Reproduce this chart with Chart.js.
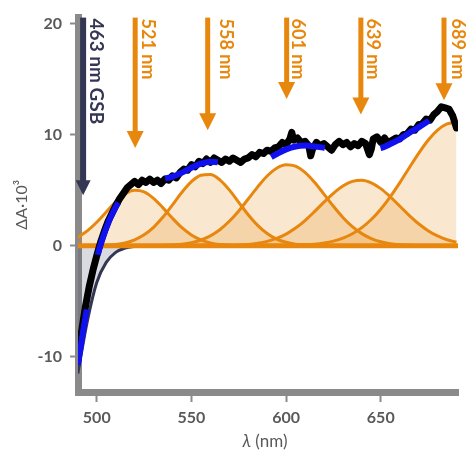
<!DOCTYPE html>
<html>
<head>
<meta charset="utf-8">
<script src="https://cdn.jsdelivr.net/npm/chart.js@4.4.1/dist/chart.umd.min.js"></script>
<style>
  html, body { margin: 0; padding: 0; background: #fff; }
</style>
</head>
<body>
<canvas id="chart" width="468" height="451"></canvas>
<script>
// wavelength grid of the fitted curves (nm)
const wavelengths = [490, 495, 500, 505, 510, 515, 520, 525, 530, 535, 540, 545, 550, 555, 560, 565, 570, 575, 580, 585,
  590, 595, 600, 605, 610, 615, 620, 625, 630, 635, 640, 645, 650, 655, 660, 665, 670, 675, 680, 685, 690]

// ground state bleach component (negative)
const gsb = [-11.5, -6.8, -3.3, -1.5, -0.6, -0.2, -0.05, 0, 0, 0, 0, 0, 0, 0, 0, 0, 0, 0, 0, 0,
  0, 0, 0, 0, 0, 0, 0, 0, 0, 0, 0, 0, 0, 0, 0, 0, 0, 0, 0, 0, 0]

// absorption bands
const band521 = [0.77, 1.34, 2.11, 3.03, 3.95, 4.66, 4.99, 4.85, 4.27, 3.41, 2.47, 1.62, 0.97, 0.52, 0.26, 0.11, 0.05, 0.02, 0, 0,
  0, 0, 0, 0, 0, 0, 0, 0, 0, 0, 0, 0, 0, 0, 0, 0, 0, 0, 0, 0, 0]
const band558 = [0, 0.01, 0.02, 0.05, 0.12, 0.26, 0.53, 0.98, 1.66, 2.58, 3.68, 4.82, 5.77, 6.35, 6.41, 5.93, 5.03, 3.91, 2.79, 1.83,
  1.10, 0.60, 0.31, 0.14, 0.06, 0.02, 0, 0, 0, 0, 0, 0, 0, 0, 0, 0, 0, 0, 0, 0, 0]
const band601 = [0, 0, 0, 0, 0, 0, 0, 0, 0.01, 0.03, 0.07, 0.14, 0.28, 0.52, 0.89, 1.44, 2.20, 3.13, 4.21, 5.30,
  6.28, 6.98, 7.29, 7.16, 6.60, 5.71, 4.65, 3.55, 2.55, 1.72, 1.09, 0.65, 0.36, 0.19, 0.09, 0.04, 0.02, 0, 0, 0, 0]
const band639 = [0, 0, 0, 0, 0, 0, 0, 0, 0, 0, 0, 0, 0, 0, 0, 0.01, 0.03, 0.06, 0.11, 0.22,
  0.39, 0.66, 1.05, 1.59, 2.27, 3.07, 3.92, 4.72, 5.38, 5.79, 5.89, 5.66, 5.14, 4.41, 3.58, 2.74, 1.98, 1.36, 0.88, 0.54, 0.31]
const band689 = [0, 0, 0, 0, 0, 0, 0, 0, 0, 0, 0, 0, 0, 0, 0, 0, 0, 0, 0, 0,
  0, 0.01, 0.02, 0.04, 0.08, 0.14, 0.25, 0.42, 0.68, 1.08, 1.63, 2.36, 3.29, 4.40, 5.66, 7.00, 8.31, 9.49, 10.40, 10.96, 11.09]

// total fit
const fit = [-10.73, -5.45, -1.17, 1.58, 3.47, 4.72, 5.47, 5.83, 5.94, 6.02, 6.22, 6.58, 7.02, 7.39, 7.56, 7.49, 7.31, 7.12, 7.11, 7.35,
  7.77, 8.25, 8.67, 8.93, 9.01, 8.94, 8.82, 8.69, 8.61, 8.59, 8.61, 8.67, 8.79, 9.15, 9.6, 10.15, 10.65, 11.2, 11.75, 11.95, 11.8]

// measured spectrum
const measuredNm = [490, 492, 494, 496, 498, 500, 502, 504, 506, 508, 510, 512, 514, 516, 518, 520, 522, 524, 526, 528,
  530, 532, 534, 536, 538, 540, 542, 544, 546, 548, 550, 552, 554, 556, 558, 560, 562, 564, 566, 568,
  570, 572, 574, 576, 578, 580, 582, 584, 586, 588, 590, 592, 594, 596, 598, 600, 602, 603, 604, 606,
  608, 610, 612, 613, 614, 616, 618, 620, 622, 624, 626, 628, 630, 632, 634, 636, 638, 640, 642, 644,
  645, 646, 648, 650, 652, 654, 656, 658, 660, 662, 664, 666, 668, 670, 672, 674, 676, 678, 680, 682,
  684, 686, 688, 690]
const measuredDA = [-10.3, -7.7, -5.5, -3.7, -2.2, -0.9, 0.3, 1.3, 2.2, 2.9, 3.6, 4.2, 4.7, 5.2, 5.5, 5.8, 5.5, 5.9, 5.7, 6.0,
  5.7, 5.9, 5.6, 6.0, 5.9, 6.3, 6.1, 6.6, 6.9, 6.8, 7.3, 7.1, 7.6, 7.4, 7.8, 7.5, 7.9, 7.7, 7.5, 7.8,
  7.6, 7.9, 7.7, 7.5, 7.8, 7.9, 8.2, 8.0, 8.4, 8.3, 8.6, 8.5, 8.8, 8.9, 9.3, 9.1, 9.6, 10.2, 9.5, 9.7,
  9.3, 9.4, 9.0, 8.1, 8.7, 9.3, 9.0, 9.2, 8.9, 8.6, 9.1, 9.4, 9.1, 9.3, 8.9, 9.2, 9.0, 9.4, 9.2, 8.2,
  8.7, 9.6, 9.8, 9.3, 9.7, 9.2, 9.5, 9.7, 9.6, 10.0, 10.1, 10.5, 10.4, 10.9, 11.0, 11.4, 11.3, 11.8, 12.1, 12.5,
  12.4, 12.3, 11.7, 10.6]

// arrows marking band positions
const arrowNm = [520.3, 558.6, 600.3, 639.5, 683.4]
const arrowTip = [8.8, 10.4, 13.2, 11.8, 13.1]
const arrowLabels = ['521 nm', '558 nm', '601 nm', '639 nm', '689 nm']
const gsbArrowNm = 492.8
const gsbArrowTip = 4.55
const gsbLabel = '463 nm GSB'

const xTicks = [500, 550, 600, 650]
const yTicks = [-10, 0, 10, 20]

const orange = '#e8870e'
const orangeFill = 'rgba(232, 135, 14, 0.2)'
const navy = '#343754'
const axisGray = '#8a8a8a'
const labelGray = '#595959'

const toPoints = (xs, ys) => xs.map((x, i) => ({ x, y: ys[i] }))

const bandDataset = (values, order) => ({
  data: toPoints(wavelengths, values),
  borderColor: orange,
  borderWidth: 3,
  backgroundColor: orangeFill,
  fill: 'origin',
  cubicInterpolationMode: 'monotone',
  order,
})

const annotations = {
  id: 'annotations',
  afterDraw(chart) {
    const { ctx, chartArea, scales: { x, y } } = chart
    const top = chartArea.top
    const arrow = (px, tipPx, shaft, headW, headH, color) => {
      ctx.fillStyle = color
      ctx.fillRect(px - shaft / 2, top, shaft, tipPx - headH - top + 1)
      ctx.beginPath()
      ctx.moveTo(px - headW / 2, tipPx - headH)
      ctx.lineTo(px + headW / 2, tipPx - headH)
      ctx.lineTo(px, tipPx)
      ctx.closePath()
      ctx.fill()
    }
    const vlabel = (text, px, font, color) => {
      ctx.save()
      ctx.translate(px, top + 1)
      ctx.rotate(Math.PI / 2)
      ctx.font = font
      ctx.fillStyle = color
      ctx.textAlign = 'left'
      ctx.textBaseline = 'alphabetic'
      ctx.fillText(text, 0, 0)
      ctx.restore()
    }
    const labelOffsets = [7, 12, 5, 6, 8]
    arrowNm.forEach((nm, i) => {
      const px = x.getPixelForValue(nm)
      arrow(px, y.getPixelForValue(arrowTip[i]), 5, 17, 17, orange)
      vlabel(arrowLabels[i], px + labelOffsets[i], 'bold 18px Lato', orange)
    })
    const gx = x.getPixelForValue(gsbArrowNm)
    arrow(gx, y.getPixelForValue(gsbArrowTip), 6, 15, 15, navy)
    vlabel(gsbLabel, gx + 7, 'bold 19px Lato', navy)

    // x axis title with italic lambda
    ctx.save()
    ctx.fillStyle = labelGray
    ctx.textBaseline = 'middle'
    const italic = 'italic 17px Lato'
    const normal = '17px Lato'
    ctx.font = italic
    const w1 = ctx.measureText('λ').width
    ctx.font = normal
    const w2 = ctx.measureText(' (nm)').width
    const cx = (chartArea.left + chartArea.right) / 2 - 3
    const start = cx - (w1 + w2) / 2
    ctx.font = italic
    ctx.fillText('λ', start, 442)
    ctx.font = normal
    ctx.fillText(' (nm)', start + w1, 442)
    ctx.restore()
  },
}

new Chart(document.getElementById('chart'), {
  type: 'line',
  data: {
    datasets: [
      {
        data: toPoints(wavelengths, fit),
        borderColor: '#1010f0',
        borderWidth: 6,
        borderDash: [56, 56],
        borderCapStyle: 'butt',
        fill: false,
        cubicInterpolationMode: 'monotone',
        order: 0,
      },
      {
        data: toPoints(measuredNm, measuredDA),
        borderColor: '#000000',
        borderWidth: 7,
        borderJoinStyle: 'round',
        borderCapStyle: 'round',
        fill: false,
        tension: 0,
        order: 1,
      },
      {
        data: toPoints([490.1, 690.8], [0, 0]),
        borderColor: orange,
        borderWidth: 5,
        fill: false,
        order: 2,
      },
      {
        data: toPoints(wavelengths, gsb),
        borderColor: navy,
        borderWidth: 3,
        backgroundColor: 'rgba(52, 55, 90, 0.18)',
        fill: 'origin',
        cubicInterpolationMode: 'monotone',
        order: 3,
      },
      bandDataset(band521, 4),
      bandDataset(band558, 5),
      bandDataset(band601, 6),
      bandDataset(band639, 7),
      bandDataset(band689, 8),
    ],
  },
  options: {
    responsive: false,
    animation: false,
    events: [],
    layout: { padding: { top: 13, right: 10, left: 0, bottom: 0 } },
    elements: { point: { radius: 0 } },
    plugins: {
      legend: { display: false },
      tooltip: { enabled: false },
      filler: { drawTime: 'beforeDatasetsDraw' },
    },
    scales: {
      x: {
        type: 'linear',
        min: 490.1,
        max: 690.8,
        z: 1,
        afterFit: (scale) => { scale.height = 59 },
        afterBuildTicks: (scale) => { scale.ticks = xTicks.map((value) => ({ value })) },
        grid: { drawOnChartArea: false, drawTicks: true, tickLength: 10, tickWidth: 2, tickColor: axisGray },
        border: { display: true, width: 7, color: axisGray },
        ticks: {
          color: labelGray,
          font: { family: 'Lato', size: 16, weight: 'bold' },
          padding: 6,
          maxRotation: 0,
        },
      },
      y: {
        type: 'linear',
        min: -13.16,
        max: 20.53,
        z: 1,
        afterFit: (scale) => { scale.width = 78 },
        afterBuildTicks: (scale) => { scale.ticks = yTicks.map((value) => ({ value })) },
        grid: { drawOnChartArea: false, drawTicks: true, tickLength: 8, tickWidth: 2, tickColor: axisGray },
        border: { display: true, width: 7, color: axisGray },
        ticks: {
          color: labelGray,
          font: { family: 'Lato', size: 16, weight: 'bold' },
          padding: 8,
        },
        title: {
          display: true,
          text: 'ΔA·10³',
          color: labelGray,
          font: { family: 'Lato', size: 16 },
          padding: { top: 12, bottom: 0 },
        },
      },
    },
  },
  plugins: [annotations],
})
</script>
</body>
</html>
